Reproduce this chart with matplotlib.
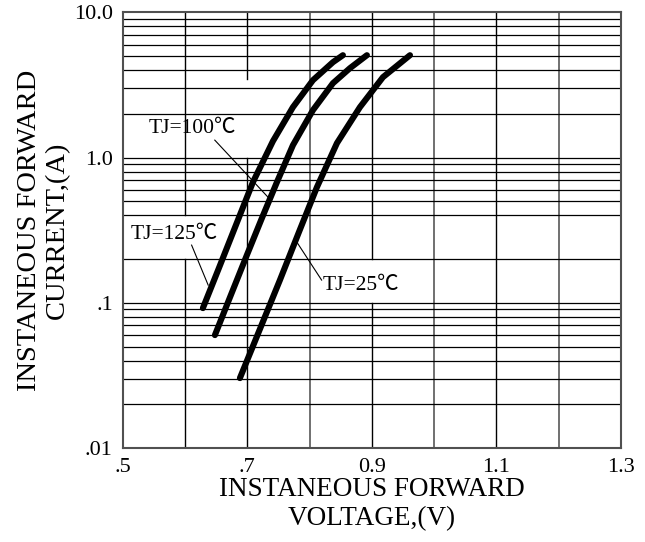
import numpy as np
import matplotlib
matplotlib.use("Agg")
import matplotlib.pyplot as plt

# ---- data ----
v_125 = [0.6289, 0.6546, 0.6819, 0.7092, 0.7413, 0.7734, 0.8055, 0.8376, 0.8536]
i_125 = [0.0919, 0.1733, 0.3425, 0.677, 1.297, 2.223, 3.41, 4.535, 5.066]

v_100 = [0.6482, 0.6738, 0.6995, 0.7236, 0.7477, 0.7734, 0.8055, 0.8376, 0.8649, 0.8921]
i_100 = [0.0599, 0.113, 0.213, 0.3827, 0.677, 1.217, 2.12, 3.25, 4.125, 5.066]

v_25 = [0.6883, 0.7204, 0.7525, 0.783, 0.8119, 0.844, 0.8809, 0.9178, 0.9612]
i_25 = [0.0303, 0.0659, 0.1433, 0.3066, 0.6255, 1.256, 2.223, 3.575, 5.066]

x_ticks = [0.5, 0.7, 0.9, 1.1, 1.3]
x_tick_labels = [".5", ".7", "0.9", "1.1", "1.3"]
y_ticks = [0.01, 0.1, 1.0, 10.0]
y_tick_labels = [".01", ".1", "1.0", "10.0"]

x_grid = [0.6, 0.7, 0.8, 0.9, 1.0, 1.1, 1.2]
x_grid_grey = [0.8, 1.0, 1.2]
x_grid_gaps = {0.6: (0.2, 0.4), 0.7: (1.0, 3.5), 0.9: (0.1, 0.2)}
y_grid = [m * 10.0 ** e for e in (-2, -1, 0) for m in range(1, 10)]
y_grid_missing = [0.3]

labels = ["TJ=125℃", "TJ=100℃", "TJ=25℃"]
label_pos = [(0.5823, 0.297), (0.6128, 1.593), (0.8825, 0.1323)]
leader_start = [(0.6108, 0.2495), (0.648, 1.318), (0.8194, 0.1433)]
leader_end = [(0.6374, 0.1323), (0.7333, 0.534), (0.7793, 0.263)]

# ---- figure ----
serif = ["Liberation Serif", "Noto Sans CJK SC", "DejaVu Serif"]
plt.rcParams["font.family"] = serif

fig = plt.figure(figsize=(6.45, 5.42), dpi=100)
ax = fig.add_axes([0.190, 0.1734, 0.773, 0.8039])
ax.set_yscale("log")
ax.set_xlim(0.5, 1.3)
ax.set_ylim(0.01, 10.0)

# grid
ylo, yhi = 0.01, 10.0
for xv in x_grid:
    grey = any(abs(xv - g) < 1e-9 for g in x_grid_grey)
    col = "#707070" if grey else "black"
    lw = 1.4 if grey else 1.0
    gap = None
    for k, g in x_grid_gaps.items():
        if abs(k - xv) < 1e-9:
            gap = g
    if gap is None:
        ax.plot([xv, xv], [ylo, yhi], color=col, lw=lw, zorder=1)
    else:
        ax.plot([xv, xv], [ylo, gap[0]], color=col, lw=lw, zorder=1)
        ax.plot([xv, xv], [gap[1], yhi], color=col, lw=lw, zorder=1)
for yv in y_grid:
    if any(abs(yv - m) < 1e-9 for m in y_grid_missing):
        continue
    ax.axhline(yv, color="black", lw=0.9, zorder=1)

# curves
for v, i in [(v_125, i_125), (v_100, i_100), (v_25, i_25)]:
    ax.plot(v, i, color="black", lw=4.4, solid_capstyle="round",
            solid_joinstyle="round", zorder=3)

# labels with leader lines
for txt, pos, s, e in zip(labels, label_pos, leader_start, leader_end):
    ax.text(pos[0], pos[1], txt, ha="center", va="center", fontsize=15.5,
            family=serif, zorder=4)
    ax.plot([s[0], e[0]], [s[1], e[1]], color="black", lw=0.8, zorder=4)

# ticks
ax.set_xticks(x_ticks)
ax.set_xticklabels(x_tick_labels)
ax.set_yticks(y_ticks)
ax.set_yticklabels(y_tick_labels)
ax.yaxis.set_minor_locator(matplotlib.ticker.NullLocator())
ax.tick_params(axis="both", length=0, labelsize=16)
ax.tick_params(axis="x", pad=7.5)
ax.tick_params(axis="y", pad=7)
ax.set_xlim(0.5, 1.3)
ax.set_ylim(0.01, 10.0)

for sp in ax.spines.values():
    sp.set_color("#505050")
    sp.set_linewidth(1.5)
    sp.set_zorder(5)

ax.set_xlabel("INSTANEOUS FORWARD\nVOLTAGE,(V)", fontsize=19.5,
              linespacing=1.2, labelpad=0)
ax.set_ylabel("INSTANEOUS FORWARD\nCURRENT,(A)", fontsize=20.5,
              linespacing=1.15, labelpad=3)

fig.savefig("out.png", dpi=100, facecolor="white")
